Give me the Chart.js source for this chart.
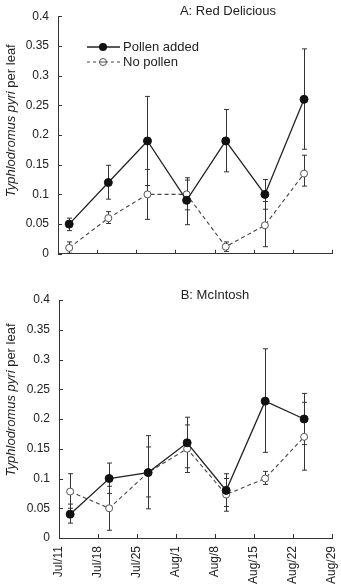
<!DOCTYPE html>
<html>
<head>
<meta charset="utf-8">
<title>Typhlodromus pyri per leaf</title>
<script src="https://cdn.jsdelivr.net/npm/chart.js@4"></script>
<style>
    html, body { margin: 0; padding: 0; background: #fff; }
    body { width: 341px; height: 584px; position: relative; overflow: hidden; }
    canvas { position: absolute; left: 0; }
    #chartA { top: 0; }
    #chartB { top: 280px; }
</style>
</head>
<body>
<canvas id="chartA" width="341" height="270"></canvas>
<canvas id="chartB" width="341" height="304"></canvas>
<script>
// Tick labels on the date axis (one per week, starting Jul/11)
const dateLabels = ['Jul/11', 'Jul/18', 'Jul/25', 'Aug/1', 'Aug/8', 'Aug/15', 'Aug/22', 'Aug/29'];
// Sampling dates, in days after Jul/11
const sampleDays = [2, 9, 16, 23, 30, 37, 44];

// A: Red Delicious
const redPollen = [0.05, 0.12, 0.19, 0.09, 0.19, 0.10, 0.26];
const redPollenLow = [0.039, 0.092, 0.115, 0.049, 0.138, 0.075, 0.176];
const redPollenHigh = [0.06, 0.149, 0.265, 0.128, 0.243, 0.125, 0.345];
const redNoPollen = [0.01, 0.06, 0.10, 0.10, 0.012, 0.048, 0.135];
const redNoPollenLow = [0.001, 0.051, 0.058, 0.074, 0.004, 0.012, 0.114];
const redNoPollenHigh = [0.02, 0.071, 0.142, 0.124, 0.02, 0.088, 0.166];

// B: McIntosh
const macPollen = [0.04, 0.10, 0.11, 0.16, 0.08, 0.23, 0.20];
const macPollenLow = [0.025, 0.075, 0.049, 0.118, 0.053, 0.144, 0.157];
const macPollenHigh = [0.057, 0.126, 0.172, 0.203, 0.108, 0.318, 0.243];
const macNoPollen = [0.078, 0.05, 0.11, 0.15, 0.073, 0.10, 0.17];
const macNoPollenLow = [0.05, 0.013, 0.069, 0.11, 0.045, 0.09, 0.114];
const macNoPollenHigh = [0.108, 0.087, 0.153, 0.19, 0.1, 0.112, 0.228];

const seriesNames = ['Pollen added', 'No pollen'];
const yTicks = [0, 0.05, 0.1, 0.15, 0.2, 0.25, 0.3, 0.35, 0.4];

const FONT = '"Liberation Sans", Arial, Helvetica, sans-serif';
const INK = '#222';

// Build {x, y} points from the day and value arrays
function toPoints(values) {
    return values.map((v, i) => ({ x: sampleDays[i], y: v }));
}

// Draws the vertical error bars before the markers
const errorBarPlugin = {
    id: 'errorBars',
    beforeDatasetsDraw(chart, args, opts) {
        const ctx = chart.ctx;
        const xs = chart.scales.x;
        const ys = chart.scales.y;
        ctx.save();
        ctx.strokeStyle = '#333';
        ctx.lineWidth = 1;
        opts.bars.forEach(bar => {
            bar.low.forEach((lo, i) => {
                const px = Math.round(xs.getPixelForValue(sampleDays[i])) + 0.5;
                const top = ys.getPixelForValue(bar.high[i]);
                const bottom = ys.getPixelForValue(lo);
                ctx.beginPath();
                ctx.moveTo(px, top);
                ctx.lineTo(px, bottom);
                ctx.moveTo(px - 2.5, top);
                ctx.lineTo(px + 2.5, top);
                ctx.moveTo(px - 2.5, bottom);
                ctx.lineTo(px + 2.5, bottom);
                ctx.stroke();
            });
        });
        ctx.restore();
    }
};

// Inward tick marks, date labels, panel title, y axis title and the legend
const decorPlugin = {
    id: 'decor',
    afterDraw(chart, args, opts) {
        const ctx = chart.ctx;
        const area = chart.chartArea;
        const xs = chart.scales.x;
        const ys = chart.scales.y;
        ctx.save();
        ctx.strokeStyle = '#333';
        ctx.lineWidth = 1;

        // tick marks pointing into the plot
        ctx.beginPath();
        yTicks.forEach(v => {
            const py = Math.round(ys.getPixelForValue(v)) + 0.5;
            ctx.moveTo(area.left, py);
            ctx.lineTo(area.left + 4, py);
        });
        dateLabels.forEach((d, i) => {
            const px = Math.round(xs.getPixelForValue(i * 7)) + 0.5;
            ctx.moveTo(px, area.bottom);
            ctx.lineTo(px, area.bottom - 4);
        });
        ctx.stroke();

        // vertical date labels, reading upwards
        ctx.fillStyle = INK;
        if (opts.showDates) {
            ctx.font = '12px ' + FONT;
            ctx.textAlign = 'right';
            ctx.textBaseline = 'middle';
            dateLabels.forEach((d, i) => {
                const px = xs.getPixelForValue(i * 7);
                ctx.save();
                ctx.translate(px, area.bottom + 8);
                ctx.rotate(-Math.PI / 2);
                ctx.fillText(d, 0, 0);
                ctx.restore();
            });
        }

        // panel title
        ctx.font = '13px ' + FONT;
        ctx.textAlign = 'center';
        ctx.textBaseline = 'middle';
        ctx.fillText(opts.title, opts.titleX, opts.titleY);

        // y axis title: species name in italics
        const part1 = 'Typhlodromus pyri';
        const part2 = ' per leaf';
        ctx.font = 'italic 13px ' + FONT;
        const w1 = ctx.measureText(part1).width;
        ctx.font = '13px ' + FONT;
        const w2 = ctx.measureText(part2).width;
        const cy = area.top + (area.bottom - area.top) * opts.yTitlePos;
        ctx.translate(11, cy);
        ctx.rotate(-Math.PI / 2);
        ctx.textAlign = 'left';
        ctx.font = 'italic 13px ' + FONT;
        ctx.fillText(part1, -(w1 + w2) / 2, 0);
        ctx.font = '13px ' + FONT;
        ctx.fillText(part2, -(w1 + w2) / 2 + w1, 0);
        ctx.setTransform(1, 0, 0, 1, 0, 0);

        // legend inside the top panel
        if (opts.legend) {
            const lx = 87, rx = 120, mx = 103;
            ctx.font = '13px ' + FONT;
            ctx.textAlign = 'left';
            ctx.textBaseline = 'middle';

            ctx.strokeStyle = INK;
            ctx.lineWidth = 1.3;
            ctx.beginPath();
            ctx.moveTo(lx, 47);
            ctx.lineTo(rx, 47);
            ctx.stroke();
            ctx.fillStyle = '#111';
            ctx.beginPath();
            ctx.arc(mx, 47, 4, 0, Math.PI * 2);
            ctx.fill();
            ctx.fillStyle = INK;
            ctx.fillText(seriesNames[0], 123, 47);

            ctx.strokeStyle = '#444';
            ctx.lineWidth = 1.1;
            ctx.setLineDash([3, 3]);
            ctx.beginPath();
            ctx.moveTo(lx, 62);
            ctx.lineTo(rx, 62);
            ctx.stroke();
            ctx.setLineDash([]);
            ctx.fillStyle = '#fff';
            ctx.strokeStyle = '#555';
            ctx.lineWidth = 1;
            ctx.beginPath();
            ctx.arc(mx, 62, 3.5, 0, Math.PI * 2);
            ctx.fill();
            ctx.stroke();
            ctx.beginPath();
            ctx.moveTo(mx - 3.5, 62);
            ctx.lineTo(mx + 3.5, 62);
            ctx.stroke();
            ctx.fillStyle = INK;
            ctx.fillText(seriesNames[1], 123, 62);
        }
        ctx.restore();
    }
};

// Creates one panel of the figure
function makePanel(canvasId, cfg) {
    const ctx = document.getElementById(canvasId).getContext('2d');
    return new Chart(ctx, {
        type: 'line',
        data: {
            datasets: [{
                label: seriesNames[0],
                data: toPoints(cfg.pollen),
                borderColor: INK,
                borderWidth: 1.3,
                pointRadius: 4,
                pointBackgroundColor: '#111',
                pointBorderColor: '#111',
                pointBorderWidth: 1,
                tension: 0
            }, {
                label: seriesNames[1],
                data: toPoints(cfg.noPollen),
                borderColor: '#444',
                borderWidth: 1.1,
                borderDash: [4, 3],
                pointRadius: 3.5,
                pointBackgroundColor: '#fff',
                pointBorderColor: '#555',
                pointBorderWidth: 1,
                tension: 0
            }]
        },
        options: {
            responsive: false,
            animation: false,
            devicePixelRatio: 1,
            layout: { padding: { top: cfg.padTop, right: 9, left: 0, bottom: 0 } },
            plugins: {
                legend: { display: false },
                tooltip: { enabled: false },
                errorBars: {
                    bars: [
                        { low: cfg.pollenLow, high: cfg.pollenHigh },
                        { low: cfg.noPollenLow, high: cfg.noPollenHigh }
                    ]
                },
                decor: {
                    title: cfg.title,
                    titleX: cfg.titleX,
                    titleY: cfg.titleY,
                    yTitlePos: cfg.yTitlePos,
                    legend: cfg.legend,
                    showDates: cfg.showDates
                }
            },
            scales: {
                x: {
                    type: 'linear',
                    min: 0,
                    max: 49,
                    grid: { display: false, drawTicks: false },
                    border: { display: true, color: '#333', width: 1 },
                    ticks: { display: false, stepSize: 7 },
                    afterFit: s => { s.height = cfg.xHeight; }
                },
                y: {
                    min: 0,
                    max: 0.4,
                    grid: { display: false, drawTicks: false },
                    border: { display: true, color: '#333', width: 1 },
                    ticks: {
                        stepSize: 0.05,
                        padding: 9,
                        color: INK,
                        font: { family: FONT, size: 12 },
                        callback: v => String(+v.toFixed(2))
                    },
                    afterFit: s => { s.width = cfg.yWidth; }
                }
            }
        },
        plugins: [errorBarPlugin, decorPlugin]
    });
}

makePanel('chartA', {
    pollen: redPollen, pollenLow: redPollenLow, pollenHigh: redPollenHigh,
    noPollen: redNoPollen, noPollenLow: redNoPollenLow, noPollenHigh: redNoPollenHigh,
    title: 'A: Red Delicious', titleX: 228, titleY: 11,
    yTitlePos: 0.44, legend: true, showDates: false,
    padTop: 16, xHeight: 15, yWidth: 58
});

makePanel('chartB', {
    pollen: macPollen, pollenLow: macPollenLow, pollenHigh: macPollenHigh,
    noPollen: macNoPollen, noPollenLow: macNoPollenLow, noPollenHigh: macNoPollenHigh,
    title: 'B: McIntosh', titleX: 215, titleY: 15,
    yTitlePos: 0.42, legend: false, showDates: true,
    padTop: 20, xHeight: 46, yWidth: 59
});
</script>
</body>
</html>
